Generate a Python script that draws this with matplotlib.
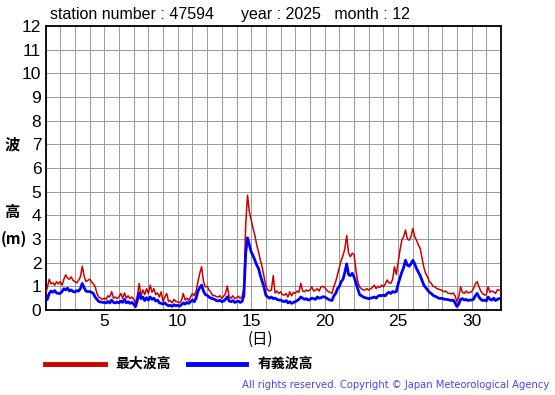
import numpy as np
import matplotlib
matplotlib.use('Agg')
import matplotlib.pyplot as plt

# 3-hourly readings, day 1 00h .. day 32 00h
sig_wave = [
    0.40, 0.45, 0.70, 0.80, 0.75, 0.82, 0.72, 0.70,
    0.70, 0.78, 0.90, 0.85, 0.92, 0.80, 0.85, 0.78,
    0.76, 0.82, 0.80, 0.90, 1.12, 0.95, 0.80, 0.78,
    0.78, 0.75, 0.70, 0.55, 0.45, 0.36, 0.34, 0.32,
    0.32, 0.30, 0.36, 0.30, 0.42, 0.32, 0.30, 0.34,
    0.30, 0.38, 0.32, 0.45, 0.30, 0.35, 0.28, 0.32,
    0.25, 0.14, 0.40, 0.72, 0.48, 0.55, 0.40, 0.52,
    0.42, 0.55, 0.45, 0.50, 0.38, 0.42, 0.30, 0.28,
    0.25, 0.30, 0.22, 0.18, 0.20, 0.15, 0.22, 0.18,
    0.20, 0.16, 0.22, 0.30, 0.25, 0.32, 0.28, 0.35,
    0.42, 0.35, 0.50, 0.80, 0.95, 1.05, 0.80, 0.65,
    0.62, 0.55, 0.50, 0.48, 0.45, 0.40, 0.38, 0.42,
    0.35, 0.38, 0.45, 0.56, 0.38, 0.35, 0.40, 0.32,
    0.35, 0.38, 0.32, 0.36, 0.60, 2.40, 3.05, 2.75,
    2.45, 2.30, 2.10, 1.90, 1.75, 1.45, 1.20, 0.95,
    0.62, 0.55, 0.50, 0.55, 0.48, 0.50, 0.45, 0.42,
    0.42, 0.38, 0.35, 0.40, 0.30, 0.35, 0.28, 0.32,
    0.35, 0.40, 0.45, 0.55, 0.50, 0.45, 0.48, 0.42,
    0.45, 0.50, 0.48, 0.45, 0.55, 0.50, 0.52, 0.56,
    0.55, 0.50, 0.45, 0.42, 0.40, 0.60, 0.70, 0.90,
    1.00, 1.20, 1.30, 1.60, 1.95, 1.50, 1.45, 1.55,
    1.40, 1.15, 0.90, 0.65, 0.60, 0.55, 0.52, 0.50,
    0.48, 0.50, 0.52, 0.55, 0.50, 0.58, 0.62, 0.60,
    0.63, 0.60, 0.70, 0.75, 0.70, 0.78, 0.75, 0.78,
    1.10, 1.35, 1.60, 1.80, 2.10, 1.90, 1.85, 1.95,
    2.10, 1.95, 1.75, 1.60, 1.45, 1.25, 1.05, 0.95,
    0.85, 0.75, 0.70, 0.62, 0.58, 0.55, 0.50, 0.49,
    0.49, 0.46, 0.45, 0.44, 0.42, 0.40, 0.42, 0.30,
    0.15, 0.25, 0.45, 0.48, 0.42, 0.45, 0.40, 0.42,
    0.42, 0.45, 0.60, 0.70, 0.55, 0.45, 0.40, 0.42,
    0.38, 0.55, 0.45, 0.42, 0.50, 0.40, 0.45, 0.48,
    0.48,
]

max_wave = [
    0.65, 0.95, 1.30, 1.10, 1.15, 1.05, 1.20, 1.10,
    1.20, 1.05, 1.30, 1.48, 1.35, 1.30, 1.40, 1.25,
    1.20, 1.15, 1.25, 1.40, 1.85, 1.45, 1.20, 1.25,
    1.30, 1.20, 1.10, 1.00, 0.70, 0.55, 0.50, 0.45,
    0.50, 0.45, 0.60, 0.55, 0.78, 0.50, 0.55, 0.48,
    0.55, 0.70, 0.50, 0.72, 0.50, 0.60, 0.48, 0.55,
    0.45, 0.30, 0.60, 1.12, 0.60, 0.85, 0.65, 0.90,
    0.70, 1.05, 0.75, 0.90, 0.65, 0.72, 0.55, 0.77,
    0.35, 0.55, 0.70, 0.35, 0.40, 0.30, 0.45, 0.35,
    0.35, 0.30, 0.40, 0.70, 0.42, 0.50, 0.40, 0.55,
    0.70, 0.60, 0.80, 1.20, 1.55, 1.83, 1.20, 0.98,
    1.00, 0.85, 0.75, 0.60, 0.62, 0.56, 0.55, 0.60,
    0.50, 0.58, 0.70, 1.01, 0.55, 0.50, 0.60, 0.48,
    0.52, 0.58, 0.50, 0.56, 0.90, 3.60, 4.85, 4.15,
    3.80, 3.45, 3.15, 2.75, 2.45, 2.10, 1.80, 1.40,
    1.00, 0.85, 0.80, 0.85, 1.45, 0.72, 0.80, 0.70,
    0.77, 0.65, 0.63, 0.70, 0.55, 0.77, 0.60, 0.75,
    0.70, 0.80, 0.75, 1.13, 0.80, 0.77, 0.85, 0.80,
    0.85, 0.98, 0.80, 0.84, 0.90, 0.80, 0.98, 1.00,
    0.95, 0.85, 0.77, 0.75, 0.70, 1.00, 1.20, 1.50,
    1.80, 2.10, 2.30, 2.60, 3.15, 2.40, 2.25, 2.40,
    2.35, 1.70, 1.20, 0.98, 0.90, 0.85, 0.84, 0.90,
    0.84, 0.90, 0.95, 1.05, 0.90, 1.00, 0.95, 1.05,
    0.98, 1.10, 1.27, 1.15, 1.13, 1.30, 1.83, 1.50,
    2.00, 2.53, 2.95, 3.10, 3.38, 3.00, 2.95, 3.10,
    3.45, 3.10, 2.95, 2.75, 2.60, 2.20, 1.80, 1.55,
    1.40, 1.20, 1.13, 1.00, 0.98, 0.91, 0.88, 0.85,
    0.82, 0.77, 0.80, 0.72, 0.70, 0.68, 0.72, 0.60,
    0.35, 0.55, 0.98, 0.75, 0.70, 0.80, 0.72, 0.75,
    0.77, 0.90, 1.10, 1.20, 0.98, 0.80, 0.70, 0.63,
    0.65, 0.98, 0.75, 0.80, 0.77, 0.70, 0.85, 0.84,
    0.84,
]

days = 1 + np.arange(len(max_wave)) / 8.0
x_ticks = [5, 10, 15, 20, 25, 30]
y_ticks = list(range(0, 13))

fig = plt.figure(figsize=(5.55, 3.95), dpi=100)
ax = fig.add_axes([45.5 / 555, 1 - 310 / 395, 455.5 / 555, 284 / 395])

ax.plot(days, max_wave, color='#cc0000', lw=1.1, zorder=3)
ax.plot(days, sig_wave, color='#0000ff', lw=2.0, zorder=4)

ax.set_xlim(1, 32)
ax.set_ylim(0, 12)
ax.set_xticks(range(1, 33), minor=True)
ax.set_xticks(x_ticks)
ax.set_yticks(y_ticks)
ax.grid(True, which='both', axis='x', color='#999999', lw=0.7)
ax.grid(True, axis='y', color='#999999', lw=0.7)
ax.set_axisbelow(True)
ax.tick_params(which='both', length=0, labelsize=12.5)
ax.tick_params(axis='y', pad=3)
ax.tick_params(axis='x', pad=3)
for lbl in ax.get_xticklabels() + ax.get_yticklabels():
    lbl.set_family('Liberation Sans')
for sp in ax.spines.values():
    sp.set_color('black')
    sp.set_linewidth(1.3)

fig.text(50 / 555, 1 - 15 / 395, 'station number : 47594      year : 2025   month : 12',
         fontsize=11.5, family='Liberation Sans', va='center', ha='left')

jp = ['Noto Sans CJK JP', 'DejaVu Sans']
fig.text(12 / 555, 1 - 144 / 395, '波', fontsize=11, family=jp, weight='bold', ha='center', va='center')
fig.text(12 / 555, 1 - 212 / 395, '高', fontsize=11, family=jp, weight='bold', ha='center', va='center')
fig.text(14 / 555, 1 - 239 / 395, '(m)', fontsize=11, family=jp, weight='bold', ha='center', va='center')
fig.text(260 / 555, 1 - 339 / 395, '(日)', fontsize=11, family=jp, ha='center', va='center')

# legend drawn by hand below the axes
fig.add_artist(plt.Line2D([45 / 555, 105 / 555], [1 - 364 / 395] * 2, color='#cc0000', lw=3.5))
fig.text(115 / 555, 1 - 364 / 395, '最大波高', fontsize=10, family=jp, weight='bold', va='center')
fig.add_artist(plt.Line2D([188 / 555, 246 / 555], [1 - 364 / 395] * 2, color='#0000ff', lw=3.5))
fig.text(258 / 555, 1 - 364 / 395, '有義波高', fontsize=10, family=jp, weight='bold', va='center')

fig.text(549 / 555, 1 - 385 / 395, 'All rights reserved. Copyright © Japan Meteorological Agency',
         fontsize=7.2, color='#4444ff', family='DejaVu Sans', ha='right', va='center')

plt.savefig('out.png', dpi=100)
